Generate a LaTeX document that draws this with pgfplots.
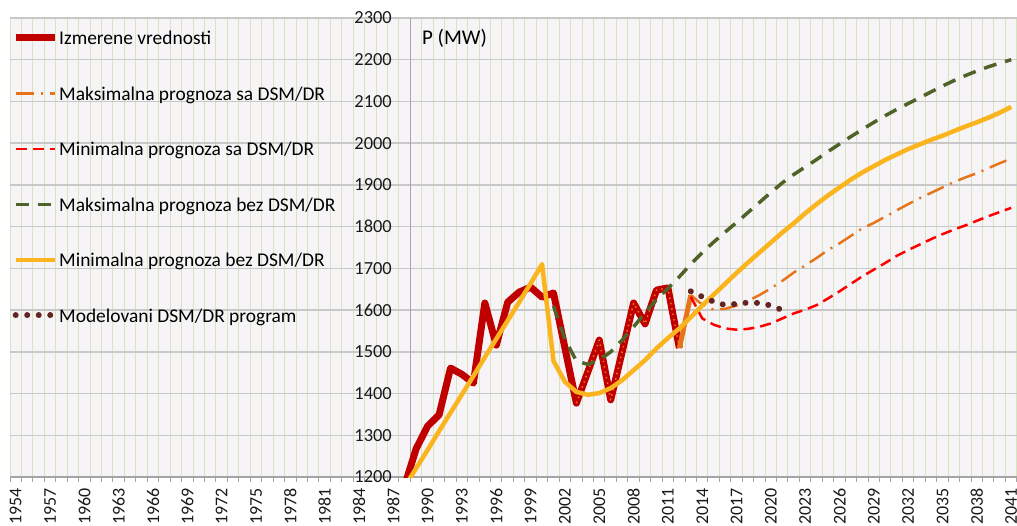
\documentclass[border=0pt]{standalone}
\usepackage{fontspec}
\setmainfont{Carlito}
\usepackage{pgfplots}
\pgfplotsset{compat=1.18}
\definecolor{bgc}{RGB}{247,244,248}
\definecolor{vgrid}{RGB}{215,228,189}
\definecolor{hgrid}{RGB}{200,200,200}
\definecolor{axgray}{RGB}{165,165,165}
\definecolor{cred}{RGB}{192,0,0}
\definecolor{corange}{RGB}{232,116,26}
\definecolor{cred2}{RGB}{255,0,0}
\definecolor{cgreen}{RGB}{79,98,40}
\definecolor{cyellow}{RGB}{249,180,30}
\definecolor{cbrown}{RGB}{99,37,35}
\begin{document}
\begin{tikzpicture}
\begin{axis}[
  scale only axis, width=1007bp, height=459bp,
  xmin=1953.5, xmax=2041.5, ymin=1200, ymax=2300,
  axis background/.style={fill=bgc},
  axis x line*=bottom, axis y line*=left,
  x axis line style={color=axgray, line width=1.2bp},
  y axis line style={draw=none},
  xtick={1954,1957,...,2041},
  minor xtick={1953.5,1954.5,...,2041.6},
  ytick={1200,1300,...,2300},
  major tick length=0pt, minor tick length=5bp, tick align=outside,
  every minor x tick/.style={color=axgray, line width=1bp},
  xminorgrids=true, ymajorgrids=true,
  minor x grid style={color=vgrid, line width=1bp},
  major y grid style={color=hgrid, line width=1.5bp},
  extra x ticks={1988.5}, extra x tick labels={},
  extra x tick style={grid=major, major grid style={color=axgray, line width=1.2bp}},
  /pgf/number format/assume math mode=true,
  /pgf/number format/1000 sep={},
  scaled ticks=false,
  tick label style={font=\fontsize{18.5}{22}\selectfont, color=black!90},
  x tick label style={rotate=90, anchor=east, inner sep=0pt, font=\fontsize{18}{22}\selectfont},
  xticklabel shift=11bp,
  y tick label style={anchor=east, inner sep=0pt, xshift=382bp},
  no markers,
  every axis plot/.append style={line join=round},
  legend style={at={(axis description cs:0,1)}, anchor=north west, xshift=2bp, yshift=-12bp,
    draw=none, fill=none, inner sep=0pt, row sep=40bp,
    font=\fontsize{19.5}{22}\selectfont, nodes={inner sep=1bp, text depth=0pt}},
  legend cell align=left,
  legend image code/.code={\draw[#1] (0bp,0bp) -- (39bp,0bp);},
]
% Izmerene vrednosti
\addplot[color=cred, line width=7bp] coordinates {
(1988,1180) (1989,1268) (1990,1322) (1991,1349) (1992,1461) (1993,1446) (1994,1425)
(1995,1617) (1996,1516) (1997,1619) (1998,1643) (1999,1655) (2000,1631) (2001,1641)
(2002,1509) (2003,1377) (2004,1452) (2005,1528) (2006,1385) (2007,1500) (2008,1617)
(2009,1567) (2010,1648) (2011,1653) (2012,1509)};
\addlegendentry{Izmerene vrednosti}
% orange dotted overlay on history
\addplot[forget plot, color=corange, line width=1.5bp, dash pattern=on 1.5bp off 4bp] coordinates {
(2003,1377) (2004,1452) (2005,1528) (2006,1385) (2007,1500) (2008,1617)
(2009,1567) (2010,1648) (2011,1653) (2012,1509)};
% thick orange link
\addplot[forget plot, color=corange, line width=5bp] coordinates {(2012,1509) (2013,1636)};
% Maksimalna prognoza sa DSM/DR
\addplot[color=corange, line width=2.5bp, dash pattern=on 18bp off 7bp on 2bp off 7bp] coordinates {
(2013,1636) (2014,1613) (2015,1601) (2016,1603) (2017,1611) (2018,1622) (2019,1636)
(2020,1652) (2021,1670) (2022,1690) (2023,1707) (2024,1725) (2025,1744) (2026,1760)
(2027,1778) (2028,1796) (2029,1809) (2030,1824) (2031,1839) (2032,1854) (2033,1868)
(2034,1881) (2035,1894) (2036,1907) (2037,1918) (2038,1928) (2039,1940) (2040,1952) (2041,1963)};
\addlegendentry{Maksimalna prognoza sa DSM/DR}
% Minimalna prognoza sa DSM/DR
\addplot[color=cred2, line width=2.5bp, dash pattern=on 11bp off 6bp] coordinates {
(2013,1632) (2014,1580) (2015,1565) (2016,1556) (2017,1553) (2018,1555) (2019,1560)
(2020,1568) (2021,1580) (2022,1592) (2023,1601) (2024,1612) (2025,1628) (2026,1645)
(2027,1663) (2028,1681) (2029,1697) (2030,1713) (2031,1730) (2032,1744) (2033,1757)
(2034,1770) (2035,1782) (2036,1793) (2037,1803) (2038,1814) (2039,1825) (2040,1835) (2041,1845)};
\addlegendentry{Minimalna prognoza sa DSM/DR}
% Maksimalna prognoza bez DSM/DR
\addplot[color=cgreen, line width=3.5bp, dash pattern=on 13bp off 9bp] coordinates {
(2001,1610) (2002,1530) (2003,1478) (2004,1470) (2005,1480) (2006,1500) (2007,1528)
(2008,1560) (2009,1593) (2010,1625) (2011,1652) (2012,1680) (2013,1710) (2014,1738)
(2015,1763) (2016,1787) (2017,1810) (2018,1834) (2019,1858) (2020,1882) (2021,1905)
(2022,1925) (2023,1943) (2024,1961) (2025,1980) (2026,1998) (2027,2016) (2028,2033)
(2029,2050) (2030,2066) (2031,2081) (2032,2095) (2033,2109) (2034,2123) (2035,2137)
(2036,2150) (2037,2162) (2038,2173) (2039,2183) (2040,2192) (2041,2200)};
\addlegendentry{Maksimalna prognoza bez DSM/DR}
% Minimalna prognoza bez DSM/DR
\addplot[color=cyellow, line width=4.5bp] coordinates {
(1988,1177) (1989,1221) (1990,1265) (1991,1310) (1992,1354) (1993,1398) (1994,1442)
(1995,1487) (1996,1531) (1997,1575) (1998,1619) (1999,1664) (2000,1710) (2001,1478)
(2002,1428) (2003,1404) (2004,1397) (2005,1401) (2006,1413) (2007,1432) (2008,1456)
(2009,1480) (2010,1508) (2011,1533) (2012,1556) (2013,1583) (2014,1611) (2015,1637)
(2016,1663) (2017,1689) (2018,1714) (2019,1738) (2020,1762) (2021,1786) (2022,1808)
(2023,1832) (2024,1854) (2025,1875) (2026,1894) (2027,1913) (2028,1930) (2029,1945)
(2030,1960) (2031,1973) (2032,1986) (2033,1997) (2034,2008) (2035,2018) (2036,2029)
(2037,2040) (2038,2050) (2039,2061) (2040,2073) (2041,2087)};
\addlegendentry{Minimalna prognoza bez DSM/DR}
% Modelovani DSM/DR program
\addplot[color=cbrown, line width=6bp, line cap=round, dash pattern=on 0.01bp off 11.5bp] coordinates {
(2013,1645) (2014,1632) (2015,1620) (2016,1612) (2017,1615) (2018,1618) (2019,1617)
(2020,1611) (2021,1600)};
\addlegendentry{Modelovani DSM/DR program}
\node[anchor=west, inner sep=0pt, font=\fontsize{21}{24}\selectfont] at (axis cs:1989.5,2252) {P (MW)};
\end{axis}
\pgfresetboundingbox
\path (-10bp,-49bp) rectangle (1007bp,477bp);
\end{tikzpicture}
\end{document}
